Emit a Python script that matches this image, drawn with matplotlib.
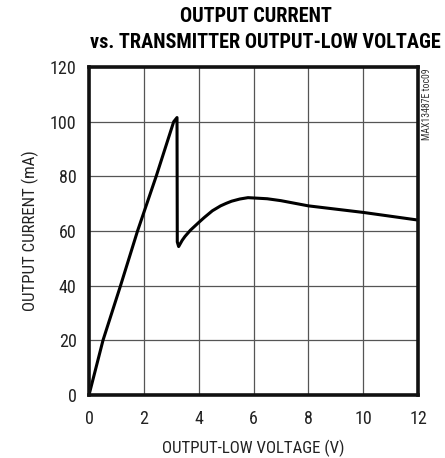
import matplotlib.pyplot as plt
from matplotlib import font_manager

# curve
voltage = [0, 0.51, 1.15, 1.77, 2.45, 3.09, 3.21, 3.22, 3.27, 3.4, 3.5, 3.7,
           4.0, 4.2, 4.5, 4.8, 5.0, 5.2, 5.5, 5.8, 6.5, 7.0, 8.0, 10.0, 12.0]
current = [0, 20, 40, 60, 80, 100, 101.5, 56, 54.3, 56.6, 58.0, 60.3,
           63.1, 64.9, 67.4, 69.2, 70.1, 70.9, 71.7, 72.2, 71.8, 71.1, 69.2, 66.8, 64.0]

x_ticks = [0, 2, 4, 6, 8, 10, 12]
y_ticks = [0, 20, 40, 60, 80, 100, 120]

names = {f.name for f in font_manager.fontManager.ttflist}
face = next((n for n in ["Roboto Condensed", "PT Sans Narrow", "Archivo Narrow"] if n in names),
            "Liberation Sans")
plt.rcParams["font.family"] = [face, "DejaVu Sans"]

fig = plt.figure(figsize=(4.45, 4.58), dpi=100)
ax = fig.add_axes([89 / 445, 1 - 395 / 458, 329 / 445, 328 / 458])

ax.plot(voltage, current, color="black", lw=2.2, solid_joinstyle="round")

ax.set_xlim(0, 12)
ax.set_ylim(0, 120)
ax.set_xticks(x_ticks)
ax.set_yticks(y_ticks)
ax.tick_params(length=0, labelsize=13, colors="#222222")
ax.tick_params(axis="x", pad=11)
ax.tick_params(axis="y", pad=9)
ax.grid(True, color="#555555", lw=0.9)
ax.set_axisbelow(True)
for s in ax.spines.values():
    s.set_linewidth(2.6)
    s.set_color("#111111")

ax.set_xlabel("OUTPUT-LOW VOLTAGE (V)", fontsize=12.2, labelpad=8, color="#222222")
ax.set_ylabel("OUTPUT CURRENT (mA)", fontsize=12.2, labelpad=8, color="#222222")

fig.text(256 / 445, 1 - 16 / 458, "OUTPUT CURRENT", ha="center", va="center",
         fontsize=14.6, fontweight="bold")
fig.text(265 / 445, 1 - 42 / 458, "vs. TRANSMITTER OUTPUT-LOW VOLTAGE", ha="center",
         va="center", fontsize=14.6, fontweight="bold")
fig.text(427 / 445, 1 - 68 / 458, "MAX13487E toc09", rotation=90, ha="center",
         va="top", fontsize=7, color="#333333")

fig.savefig("out.png", dpi=100)
